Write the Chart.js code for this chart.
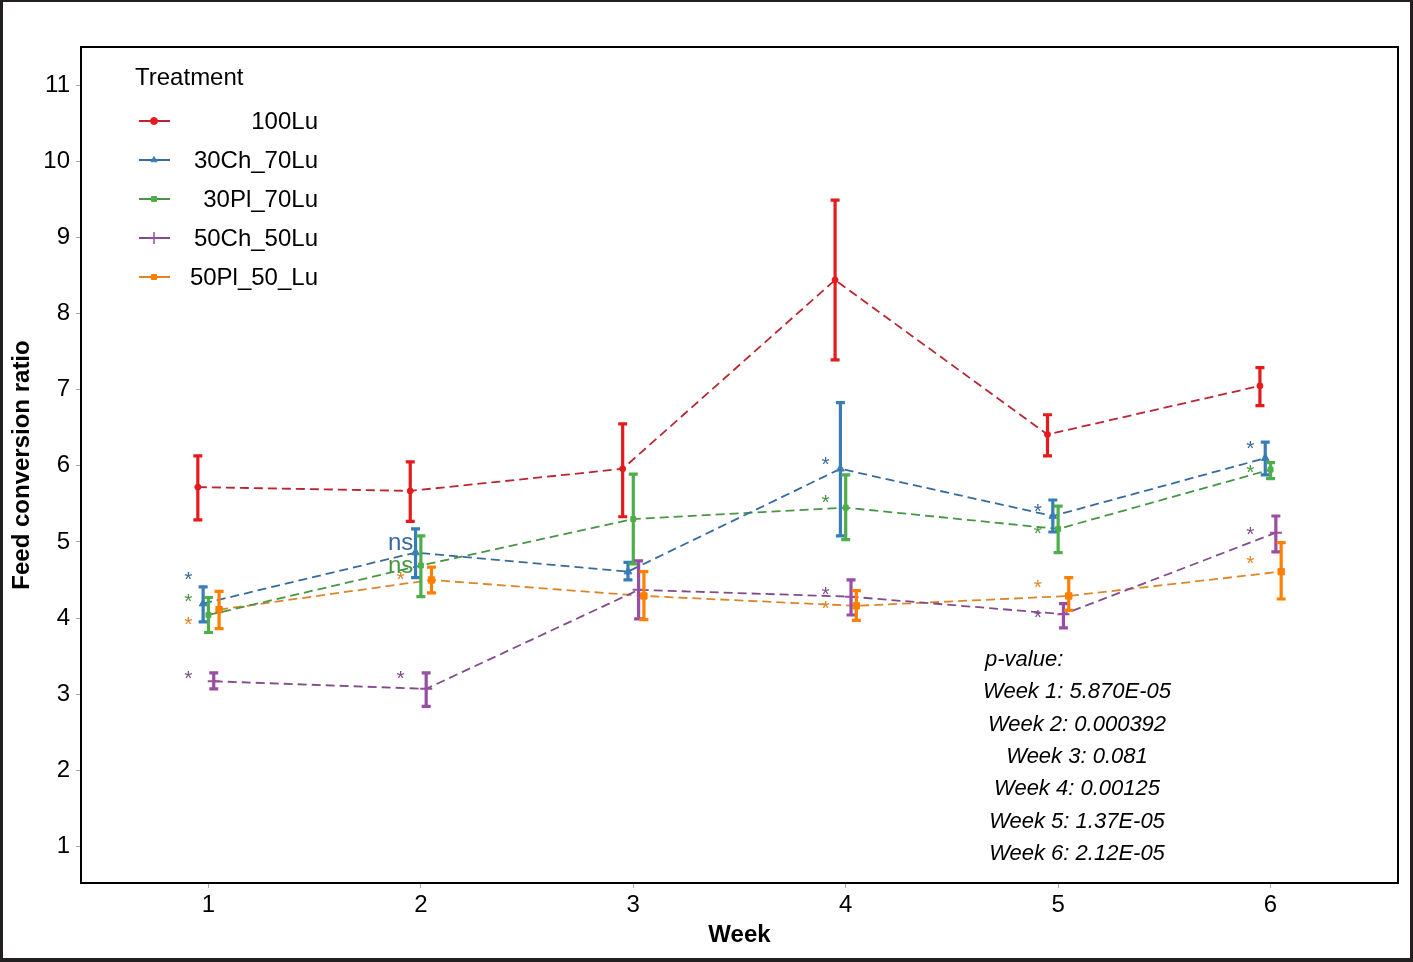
<!DOCTYPE html>
<html>
<head>
<meta charset="utf-8">
<script src="https://cdn.jsdelivr.net/npm/chart.js@4.4.1/dist/chart.umd.min.js"></script>
<style>
    html, body { margin: 0; padding: 0; background: #231f20; }
    #frame {
        position: absolute; left: 3px; top: 2px;
        width: 1407px; height: 956px; background: #fff;
    }
    canvas { display: block; }
</style>
</head>
<body>
<div id="frame"><canvas id="fcrChart" width="1407" height="956"></canvas></div>
<script>
// ===== DATA =====
const weeks = [1, 2, 3, 4, 5, 6];
const treatments = ['100Lu', '30Ch_70Lu', '30Pl_70Lu', '50Ch_50Lu', '50Pl_50_Lu'];

// mean feed conversion ratio and error bar ends, per treatment
const mean100Lu = [5.72, 5.67, 5.96, 8.44, 6.41, 7.05];
const low100Lu  = [5.29, 5.27, 5.33, 7.39, 6.13, 6.79];
const high100Lu = [6.13, 6.05, 6.55, 9.49, 6.67, 7.29];

const mean30Ch = [4.19, 4.86, 4.61, 5.96, 5.34, 6.10];
const low30Ch  = [3.95, 4.53, 4.50, 5.08, 5.13, 5.88];
const high30Ch = [4.41, 5.17, 4.73, 6.83, 5.55, 6.31];

const mean30Pl = [4.04, 4.69, 5.30, 5.45, 5.17, 5.95];
const low30Pl  = [3.81, 4.28, 4.71, 5.03, 4.86, 5.83];
const high30Pl = [4.27, 5.08, 5.89, 5.88, 5.47, 6.04];

const mean50Ch = [3.17, 3.07, 4.37, 4.28, 4.05, 5.12];
const low50Ch  = [3.07, 2.84, 3.99, 4.04, 3.87, 4.87];
const high50Ch = [3.28, 3.28, 4.75, 4.50, 4.19, 5.34];

const mean50Pl = [4.11, 4.50, 4.29, 4.16, 4.29, 4.61];
const low50Pl  = [3.86, 4.33, 3.98, 3.97, 4.10, 4.25];
const high50Pl = [4.35, 4.67, 4.61, 4.36, 4.53, 4.99];

// significance marks vs 100Lu and the value they sit at
const sig30Ch  = ['*', 'ns', '', '*', '*', '*'];
const sigY30Ch = [4.57, 4.99, null, 6.08, 5.46, 6.28];
const sig30Pl  = ['*', 'ns', '', '*', '*', '*'];
const sigY30Pl = [4.27, 4.69, null, 5.58, 5.17, 5.97];
const sig50Ch  = ['*', '*', '', '*', '*', '*'];
const sigY50Ch = [3.26, 3.27, null, 4.37, 4.07, 5.16];
const sig50Pl  = ['*', '*', '', '*', '*', '*'];
const sigY50Pl = [3.97, 4.57, null, 4.18, 4.46, 4.77];

const yTicks = [1, 2, 3, 4, 5, 6, 7, 8, 9, 10, 11];

const pValueLines = [
    'Week 1: 5.870E-05',
    'Week 2: 0.000392',
    'Week 3: 0.081',
    'Week 4: 0.00125',
    'Week 5: 1.37E-05',
    'Week 6: 2.12E-05'
];

// ===== STYLE =====
const FONT = "'Liberation Sans', Arial, sans-serif";
const colors     = ['#e41a1c', '#377eb8', '#4daf4a', '#984ea3', '#ff7f00'];
const lineColors = ['#bb2630', '#386b9c', '#489645', '#804d8b', '#dc8629'];
const pointStyles = ['circle', 'triangle', 'rect', 'cross', 'rect'];
const pointSizes = [3, 4.5, 3.5, 6, 4.5];
const dodge = [-0.05, -0.025, 0, 0.025, 0.05];
const sigOffset = -0.095;

const means = [mean100Lu, mean30Ch, mean30Pl, mean50Ch, mean50Pl];
const lows  = [low100Lu, low30Ch, low30Pl, low50Ch, low50Pl];
const highs = [high100Lu, high30Ch, high30Pl, high50Ch, high50Pl];
const sigs  = [null, sig30Ch, sig30Pl, sig50Ch, sig50Pl];
const sigYs = [null, sigY30Ch, sigY30Pl, sigY50Ch, sigY50Pl];

const datasets = treatments.map((name, s) => ({
    label: name,
    data: weeks.map((w, i) => ({ x: w + dodge[s], y: means[s][i] })),
    borderColor: lineColors[s],
    backgroundColor: colors[s],
    pointBorderColor: colors[s],
    pointStyle: pointStyles[s],
    pointRadius: pointSizes[s],
    pointBorderWidth: s === 3 ? 2 : 1,
    borderWidth: 1.8,
    borderDash: [9, 5],
    tension: 0
}));

// ===== PLUGINS =====
const errorBars = {
    id: 'errorBars',
    afterDatasetsDraw(chart) {
        const ctx = chart.ctx;
        const xs = chart.scales.x, ys = chart.scales.y;
        ctx.save();
        ctx.lineWidth = 3.2;
        treatments.forEach((name, s) => {
            ctx.strokeStyle = colors[s];
            weeks.forEach((w, i) => {
                const px = xs.getPixelForValue(w + dodge[s]);
                const top = ys.getPixelForValue(highs[s][i]);
                const bot = ys.getPixelForValue(lows[s][i]);
                ctx.beginPath();
                ctx.moveTo(px, top); ctx.lineTo(px, bot);
                ctx.moveTo(px - 4.5, top); ctx.lineTo(px + 4.5, top);
                ctx.moveTo(px - 4.5, bot); ctx.lineTo(px + 4.5, bot);
                ctx.stroke();
            });
        });
        ctx.restore();
    }
};

const sigMarks = {
    id: 'sigMarks',
    afterDatasetsDraw(chart) {
        const ctx = chart.ctx;
        const xs = chart.scales.x, ys = chart.scales.y;
        ctx.save();
        ctx.textAlign = 'center';
        ctx.textBaseline = 'alphabetic';
        treatments.forEach((name, s) => {
            if (!sigs[s]) return;
            ctx.fillStyle = lineColors[s];
            weeks.forEach((w, i) => {
                const txt = sigs[s][i];
                if (!txt) return;
                const px = xs.getPixelForValue(w + sigOffset);
                const py = ys.getPixelForValue(sigYs[s][i]);
                if (txt === 'ns') {
                    ctx.font = '24px ' + FONT;
                    ctx.fillText(txt, px, py + 7);
                } else {
                    ctx.font = '21px ' + FONT;
                    ctx.fillText(txt, px, py + 11);
                }
            });
        });
        ctx.restore();
    }
};

const frameAndText = {
    id: 'frameAndText',
    afterDraw(chart) {
        const ctx = chart.ctx;
        const a = chart.chartArea;
        ctx.save();
        // plot box
        ctx.strokeStyle = '#000';
        ctx.lineWidth = 2;
        ctx.strokeRect(a.left, a.top, a.right - a.left, a.bottom - a.top);

        // legend
        ctx.fillStyle = '#000';
        ctx.font = '24px ' + FONT;
        ctx.textBaseline = 'middle';
        ctx.textAlign = 'left';
        ctx.fillText('Treatment', 132, 76);
        treatments.forEach((name, s) => {
            const y = 119 + s * 39;
            ctx.strokeStyle = lineColors[s];
            ctx.lineWidth = 2;
            ctx.setLineDash([]);
            ctx.beginPath();
            ctx.moveTo(136, y); ctx.lineTo(167, y);
            ctx.stroke();
            ctx.fillStyle = colors[s];
            ctx.strokeStyle = colors[s];
            ctx.lineWidth = s === 3 ? 1.5 : 1;
            Chart.helpers.drawPoint(ctx, {
                pointStyle: pointStyles[s],
                radius: s === 3 ? 6 : 3.5,
                rotation: 0,
                borderWidth: 1
            }, 151, y);
            ctx.fillStyle = '#000';
            ctx.textAlign = 'right';
            ctx.fillText(name, 315, y + 1);
            ctx.textAlign = 'left';
        });

        // p-values
        ctx.font = 'italic 22px ' + FONT;
        ctx.textAlign = 'left';
        ctx.fillText('p-value:', 982, 658);
        ctx.textAlign = 'center';
        pValueLines.forEach((line, i) => {
            ctx.fillText(line, 1074, 690 + i * 32.4);
        });
        ctx.restore();
    }
};

// ===== CHART =====
new Chart(document.getElementById('fcrChart'), {
    type: 'line',
    data: { datasets: datasets },
    options: {
        responsive: false,
        animation: false,
        devicePixelRatio: 1,
        layout: { padding: { left: 0, right: 12, top: 45, bottom: 0 } },
        plugins: {
            legend: { display: false },
            tooltip: { enabled: false }
        },
        scales: {
            x: {
                type: 'linear',
                min: 0.4,
                max: 6.6,
                afterFit: (scale) => { scale.height = 75; },
                afterBuildTicks: (scale) => { scale.ticks = weeks.map(v => ({ value: v })); },
                ticks: {
                    color: '#000',
                    font: { family: FONT, size: 24 },
                    padding: 3
                },
                grid: {
                    drawOnChartArea: false,
                    drawTicks: true,
                    tickLength: 5,
                    color: '#aaa'
                },
                border: { display: false },
                title: {
                    display: true,
                    text: 'Week',
                    color: '#000',
                    font: { family: FONT, size: 24, weight: 'bold' },
                    padding: { top: 0, bottom: 8 }
                }
            },
            y: {
                min: 0.52,
                max: 11.5,
                afterFit: (scale) => { scale.width = 78; },
                afterBuildTicks: (scale) => { scale.ticks = yTicks.map(v => ({ value: v })); },
                ticks: {
                    color: '#000',
                    font: { family: FONT, size: 24 },
                    padding: 6
                },
                grid: {
                    drawOnChartArea: false,
                    drawTicks: true,
                    tickLength: 5,
                    color: '#aaa'
                },
                border: { display: false },
                title: {
                    display: true,
                    text: 'Feed conversion ratio',
                    color: '#000',
                    font: { family: FONT, size: 24, weight: 'bold' },
                    padding: { top: 5, bottom: 0 }
                }
            }
        }
    },
    plugins: [errorBars, sigMarks, frameAndText]
});
</script>
</body>
</html>
